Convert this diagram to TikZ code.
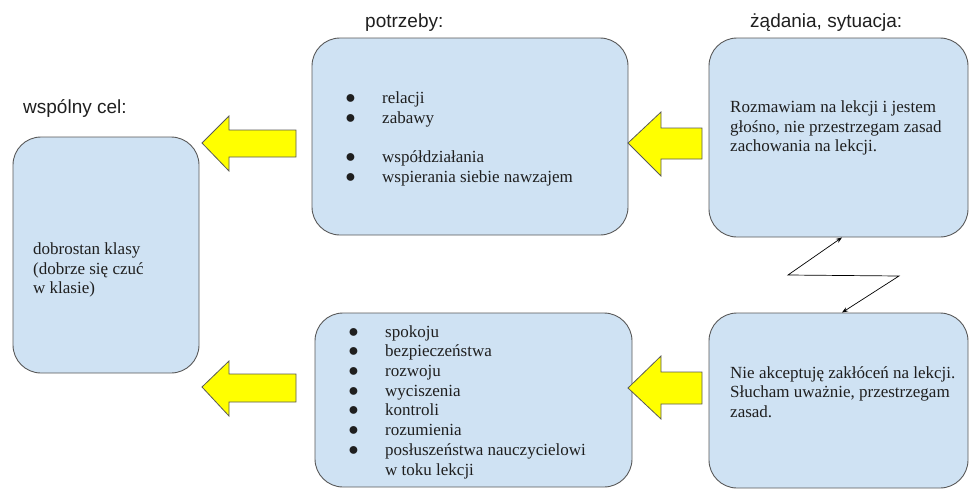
\documentclass[tikz,border=0pt]{standalone}
\usepackage{fontspec}
\setmainfont{Liberation Serif}
\newfontfamily\labelfont{Liberation Sans}
\newfontfamily\bodyfont{Liberation Serif}
\usetikzlibrary{arrows.meta}

\definecolor{boxfill}{HTML}{CFE2F3}
\definecolor{boxline}{HTML}{595959}
\definecolor{arrowfill}{HTML}{FFFF00}
\definecolor{inktext}{HTML}{1F1F1F}

% list item with a round bullet in a fixed-width slot
\newcommand{\bulletitem}{\makebox[37pt][l]{{\fontsize{18}{18}\selectfont ●}}}

\begin{document}
\begin{tikzpicture}[x=1pt,y=-1pt,
  card/.style={draw=boxline, fill=boxfill, line width=0.9pt, rounded corners=28pt, inner sep=0pt},
  heading/.style={font=\labelfont\fontsize{19}{22}\selectfont, text=inktext, anchor=base west, inner sep=0pt},
  body/.style={font=\bodyfont\fontsize{17}{19.7}\selectfont, text=inktext, anchor=west, align=left, inner sep=0pt},
  bigarrow/.style={draw=boxline, fill=arrowfill, line width=0.8pt, line join=miter},
  link/.style={draw=black, line width=0.7pt, {Stealth[length=6pt,width=4.5pt]}-{Stealth[length=6pt,width=4.5pt]}},
]
\useasboundingbox (0,0) rectangle (970,490);

% boxes
\node[card, minimum width=186pt, minimum height=236pt] (goal) at (106,255) {};
\node[card, minimum width=316pt, minimum height=197pt] (needsA) at (470,136.5) {};
\node[card, minimum width=259pt, minimum height=199pt] (situation) at (838.5,137.5) {};
\node[card, minimum width=317pt, minimum height=174pt] (needsB) at (473.5,400) {};
\node[card, minimum width=259pt, minimum height=175pt] (demand) at (838.5,400.5) {};

% headings
\node[heading] (goalhead) at (23,113) {wspólny cel:};
\node[heading] (needshead) at (365,27) {potrzeby:};
\node[heading] (situationhead) at (750,27) {żądania, sytuacja:};

% box texts
\node[body] (goaltext) at (33,270) {dobrostan klasy\\(dobrze się czuć\\w klasie)};
\node[body] (situationtext) at (730,128) {Rozmawiam na lekcji i jestem\\głośno, nie przestrzegam zasad\\zachowania na lekcji.};
\node[body] (demandtext) at (730,392) {Nie akceptuję zakłóceń na lekcji.\\Słucham uważnie, przestrzegam\\zasad.};
\node[body] (needsAtext) at (345,139) {\bulletitem relacji\\\bulletitem zabawy\\\mbox{}\\\bulletitem współdziałania\\\bulletitem wspierania siebie nawzajem};
\node[body] (needsBtext) at (348,402) {\bulletitem spokoju\\\bulletitem bezpieczeństwa\\\bulletitem rozwoju\\\bulletitem wyciszenia\\\bulletitem kontroli\\\bulletitem rozumienia\\\bulletitem posłuszeństwa nauczycielowi\\\hspace*{37pt}w toku lekcji};

% block arrows pointing left
\draw[bigarrow] (202,143) -- (229,116) -- (229,130) -- (296,130) -- (296,157) -- (229,157) -- (229,171) -- cycle;
\draw[bigarrow] (628,143) -- (661,112) -- (661,128) -- (702,128) -- (702,159) -- (661,159) -- (661,176) -- cycle;
\draw[bigarrow] (202,387) -- (229,361) -- (229,374) -- (296,374) -- (296,402) -- (229,402) -- (229,416) -- cycle;
\draw[bigarrow] (628,388) -- (661,356) -- (661,372) -- (702,372) -- (702,404) -- (661,404) -- (661,419) -- cycle;

% zigzag link between the two right boxes
\coordinate (zx) at (842,0);
\coordinate (z1) at (788,275);
\coordinate (z2) at (899,276);
\draw[link] (situation.south -| zx) -- (z1) -- (z2) -- (demand.north -| zx);
\end{tikzpicture}
\end{document}
